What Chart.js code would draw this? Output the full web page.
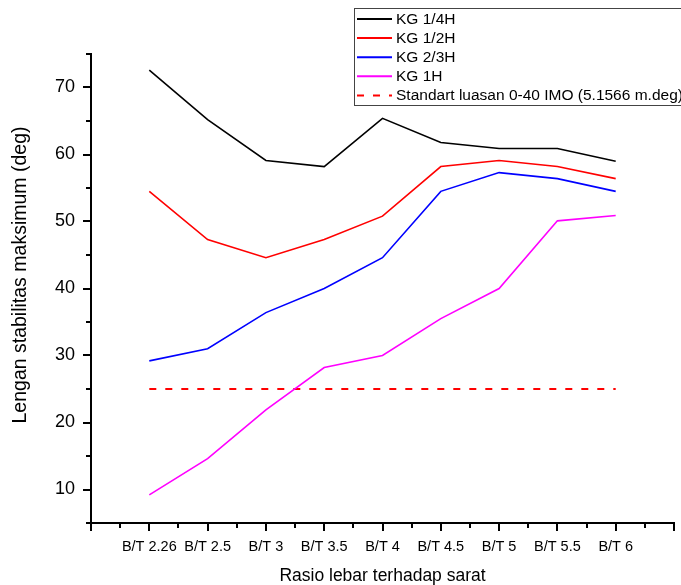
<!DOCTYPE html>
<html>
<head>
<meta charset="utf-8">
<script src="https://cdn.jsdelivr.net/npm/chart.js@4/dist/chart.umd.min.js"></script>
<style>
  html, body { margin: 0; padding: 0; background: #fff; }
  #wrap { position: relative; width: 681px; height: 585px; }
</style>
</head>
<body>
<div id="wrap"><canvas id="chart" width="681" height="585"></canvas></div>
<script>
const categories = ["B/T 2.26", "B/T 2.5", "B/T 3", "B/T 3.5", "B/T 4", "B/T 4.5", "B/T 5", "B/T 5.5", "B/T 6"];

const kgQuarter = [72.6, 65.2, 59.1, 58.2, 65.4, 61.8, 60.9, 60.9, 59.0];
const kgHalf = [54.5, 47.3, 44.6, 47.3, 50.8, 58.2, 59.1, 58.2, 56.4];
const kgTwoThirds = [29.2, 31.0, 36.4, 40.0, 44.6, 54.5, 57.3, 56.4, 54.5];
const kgFull = [9.2, 14.6, 21.9, 28.2, 30.0, 35.5, 40.0, 50.1, 50.9];
const imoStandard = [25, 25, 25, 25, 25, 25, 25, 25, 25];

const yTitle = "Lengan stabilitas maksimum (deg)";

const series = [
  ["KG 1/4H", kgQuarter, "#000000", []],
  ["KG 1/2H", kgHalf, "#ff0000", []],
  ["KG 2/3H", kgTwoThirds, "#0000ff", []],
  ["KG 1H", kgFull, "#ff00ff", []],
  ["Standart luasan 0-40 IMO (5.1566 m.deg)", imoStandard, "#ff0000", [7, 9]]
];

const FONT = "'Liberation Sans', Arial, sans-serif";

function toPoints(values) {
  return values.map((v, i) => ({ x: i, y: v }));
}

function noPadding(scale) {
  scale.paddingLeft = 0;
  scale.paddingRight = 0;
  scale.paddingTop = 0;
  scale.paddingBottom = 0;
}

// tick marks (long on majors, short on minors), y title, legend box
const decorations = {
  id: "decorations",
  afterDraw(chart) {
    const ctx = chart.ctx;
    const xs = chart.scales.x;
    const ys = chart.scales.y;
    const area = chart.chartArea;

    ctx.save();
    ctx.strokeStyle = "#000";
    ctx.lineWidth = 2;
    ctx.beginPath();
    ys.ticks.forEach((t) => {
      const y = Math.round(ys.getPixelForValue(t.value));
      const len = t.value % 10 === 0 ? 8 : 5;
      ctx.moveTo(area.left, y);
      ctx.lineTo(area.left - len, y);
    });
    xs.ticks.forEach((t) => {
      const x = Math.round(xs.getPixelForValue(t.value));
      const len = Number.isInteger(t.value) ? 8 : 5;
      ctx.moveTo(x, area.bottom);
      ctx.lineTo(x, area.bottom + len);
    });
    ctx.stroke();

    // y axis title
    ctx.save();
    ctx.translate(20.5, 275);
    ctx.rotate(-Math.PI / 2);
    ctx.font = "19.5px " + FONT;
    ctx.textAlign = "center";
    ctx.textBaseline = "middle";
    ctx.fillStyle = "#000";
    ctx.fillText(yTitle, 0, 0);
    ctx.restore();

    // legend
    ctx.lineWidth = 1;
    ctx.strokeStyle = "#444";
    ctx.strokeRect(354.5, 8.5, 340, 97);
    ctx.font = "15.5px " + FONT;
    ctx.textBaseline = "middle";
    ctx.fillStyle = "#000";
    chart.data.datasets.forEach((ds, i) => {
      const y = 19 + i * 19.1;
      ctx.strokeStyle = ds.borderColor;
      ctx.lineWidth = 2;
      ctx.setLineDash(ds.borderDash);
      ctx.beginPath();
      ctx.moveTo(357, y);
      ctx.lineTo(392, y);
      ctx.stroke();
      ctx.setLineDash([]);
      ctx.fillText(ds.label, 396, y + 0.5);
    });
    ctx.restore();
  }
};

new Chart(document.getElementById("chart"), {
  type: "line",
  data: {
    datasets: series.map(([label, values, color, dash]) => ({
      label,
      data: toPoints(values),
      borderColor: color,
      backgroundColor: color,
      borderWidth: dash.length ? 2 : 1.6,
      borderDash: dash,
      pointRadius: 0,
      tension: 0
    }))
  },
  options: {
    responsive: false,
    animation: false,
    layout: { padding: { top: 54, right: 7, left: 0, bottom: 0 } },
    plugins: {
      legend: { display: false },
      tooltip: { enabled: false }
    },
    scales: {
      x: {
        type: "linear",
        min: -1,
        max: 9,
        afterFit: (scale) => { scale.height = 62; noPadding(scale); },
        grid: { display: false, drawTicks: false },
        border: { display: true, color: "#000", width: 2 },
        ticks: {
          stepSize: 0.5,
          autoSkip: false,
          maxRotation: 0,
          padding: 15,
          color: "#000",
          font: { family: FONT, size: 14.5 },
          callback: (v) => (Number.isInteger(v) && v >= 0 && v < categories.length ? categories[v] : "")
        },
        title: {
          display: true,
          text: "Rasio lebar terhadap sarat",
          color: "#000",
          font: { family: FONT, size: 17.5, lineHeight: 1 },
          padding: { top: 0, bottom: 0 }
        }
      },
      y: {
        min: 5,
        max: 75,
        afterFit: (scale) => { scale.width = 91; noPadding(scale); },
        grid: { display: false, drawTicks: false },
        border: { display: true, color: "#000", width: 2 },
        ticks: {
          stepSize: 5,
          autoSkip: false,
          padding: 16,
          color: "#000",
          font: { family: FONT, size: 18 },
          callback: (v) => (v % 10 === 0 ? v : "")
        },
        title: { display: false }
      }
    }
  },
  plugins: [decorations]
});
</script>
</body>
</html>
